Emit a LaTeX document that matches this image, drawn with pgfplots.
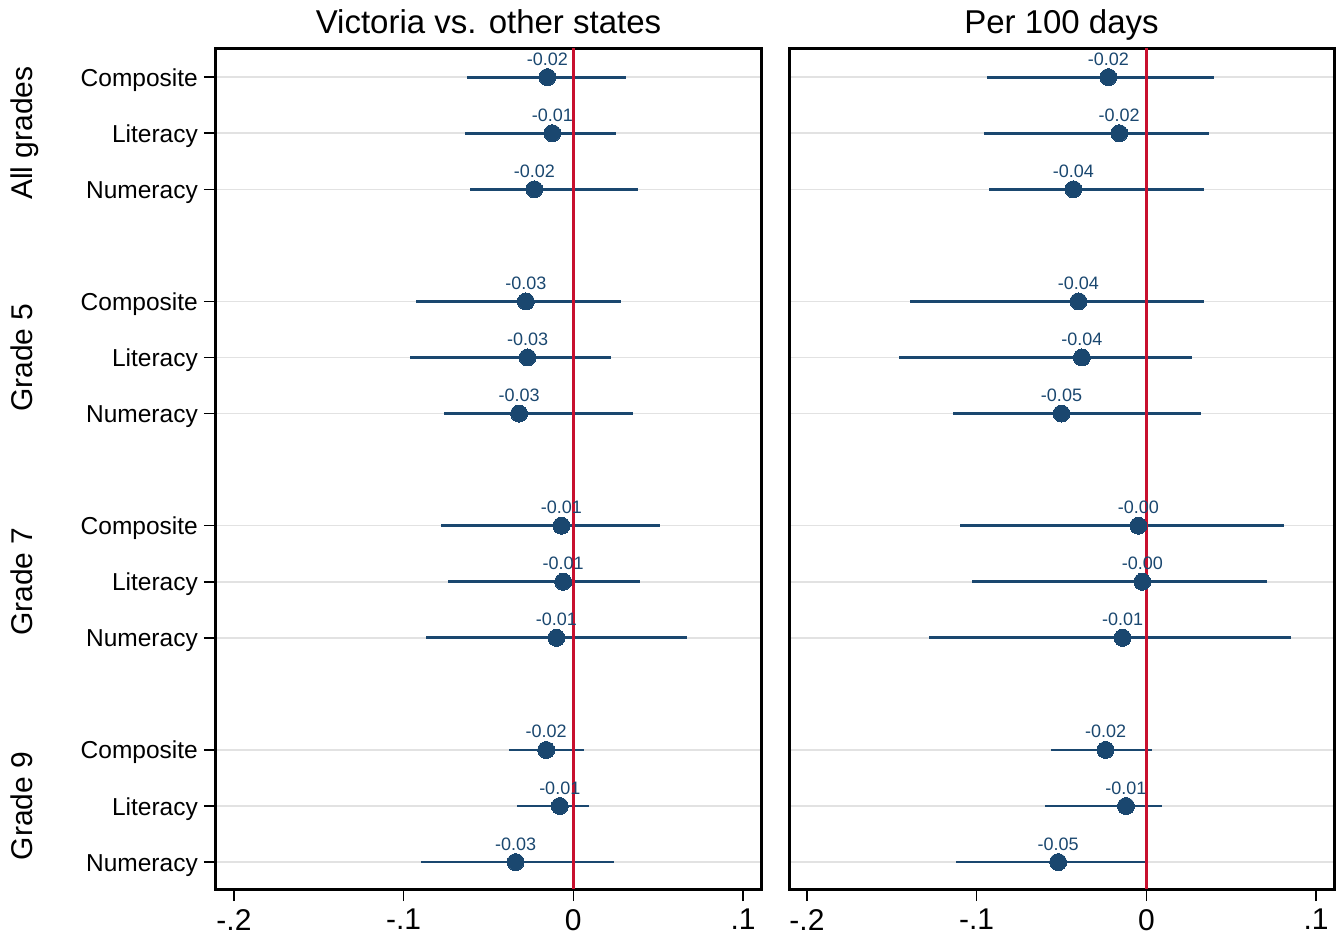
\documentclass[border=0pt]{standalone}
\usepackage{pgfplots}
\pgfplotsset{compat=1.18}
\usepackage{pgfplotstable}
\usepackage{fontspec}
\setmainfont{Liberation Sans}
\definecolor{navy}{RGB}{26,71,111}
\definecolor{vline}{RGB}{200,16,46}
\definecolor{gridc}{RGB}{226,226,226}

\pgfplotstableread{
pos est lo hi lab
1 -0.0153 -0.0625 0.031 -0.02
2 -0.0124 -0.064 0.025 -0.01
3 -0.023 -0.061 0.038 -0.02
5 -0.028 -0.093 0.028 -0.03
6 -0.027 -0.096 0.022 -0.03
7 -0.032 -0.076 0.035 -0.03
9 -0.007 -0.078 0.051 -0.01
10 -0.006 -0.074 0.039 -0.01
11 -0.010 -0.087 0.067 -0.01
13 -0.016 -0.038 0.0065 -0.02
14 -0.008 -0.033 0.009 -0.01
15 -0.034 -0.090 0.024 -0.03
}\lefttab

\pgfplotstableread{
pos est lo hi lab
1 -0.0224 -0.094 0.040 -0.02
2 -0.016 -0.0956 0.037 -0.02
3 -0.043 -0.093 0.034 -0.04
5 -0.040 -0.139 0.034 -0.04
6 -0.038 -0.146 0.027 -0.04
7 -0.050 -0.114 0.032 -0.05
9 -0.0047 -0.110 0.081 -0.00
10 -0.0024 -0.103 0.071 -0.00
11 -0.014 -0.128 0.085 -0.01
13 -0.024 -0.056 0.0035 -0.02
14 -0.012 -0.060 0.009 -0.01
15 -0.052 -0.112 0.0 -0.05
}\righttab

\pgfplotsset{
  panel/.style={
    scale only axis, width=545bp, height=841bp,
    xmin=-0.2106, xmax=0.1106, ymin=0.48, ymax=15.48,
    y dir=reverse, clip=false,
    axis line style={line width=3bp, black},
    tick style={line width=1.5bp, black},
    major tick length=12bp, tick align=outside,
    xtick={-0.2,-0.1,0,0.1}, xticklabels={-.2,-.1,0,.1},
    xtick pos=lower, ytick pos=left,
    ytick={1,2,3,5,6,7,9,10,11,13,14,15},
    ymajorgrids, grid style={line width=1.5bp, gridc},
    xticklabel style={font=\fontsize{30bp}{34bp}\selectfont, inner sep=0pt, anchor=north, yshift=-8bp},
    yticklabel style={font=\fontsize{24.5bp}{28bp}\selectfont, inner sep=0pt, anchor=base east, xshift=-6bp, yshift=-9bp},
    title style={at={(0.5,1)}, anchor=base, yshift=9bp, font=\fontsize{33bp}{38bp}\selectfont},
  },
  est/.style={only marks, mark=*, mark size=8.5bp, mark options={fill=navy, draw=navy, line width=0pt},
    error bars/.cd, x dir=both, x explicit, error mark=none,
    error bar style={line width=2.8bp, navy}},
  lab/.style={only marks, mark=none, point meta=explicit symbolic,
    nodes near coords, nodes near coords style={anchor=base, yshift=12bp, inner sep=0pt,
      text=navy, font=\fontsize{18bp}{20bp}\selectfont}},
}
\tikzset{grp/.style={rotate=90, anchor=base, inner sep=0pt, font=\fontsize{30bp}{34bp}\selectfont}}

\begin{document}
\begin{tikzpicture}
\path[use as bounding box] (-216bp,-50bp) rectangle (1123bp,889bp);
\begin{axis}[panel, title={Victoria vs. other states},
  yticklabels={Composite,Literacy,Numeracy,Composite,Literacy,Numeracy,Composite,Literacy,Numeracy,Composite,Literacy,Numeracy}]
\addplot[est] table[x=est, y=pos, x error plus expr=\thisrow{hi}-\thisrow{est}, x error minus expr=\thisrow{est}-\thisrow{lo}] {\lefttab};
\addplot[vline, line width=2.6bp] coordinates {(0,0.48) (0,15.48)};
\addplot[lab] table[x=est, y=pos, meta=lab] {\lefttab};
\node[grp] at (axis cs:-0.3186,2) {All grades};
\node[grp] at (axis cs:-0.3186,6) {Grade 5};
\node[grp] at (axis cs:-0.3186,10) {Grade 7};
\node[grp] at (axis cs:-0.3186,14) {Grade 9};
\end{axis}
\begin{axis}[panel, at={(573bp,0)}, title={Per 100 days}, yticklabels={}, y tick style={draw=none}]
\addplot[est] table[x=est, y=pos, x error plus expr=\thisrow{hi}-\thisrow{est}, x error minus expr=\thisrow{est}-\thisrow{lo}] {\righttab};
\addplot[vline, line width=2.6bp] coordinates {(0,0.48) (0,15.48)};
\addplot[lab] table[x=est, y=pos, meta=lab] {\righttab};
\end{axis}
\end{tikzpicture}
\end{document}
